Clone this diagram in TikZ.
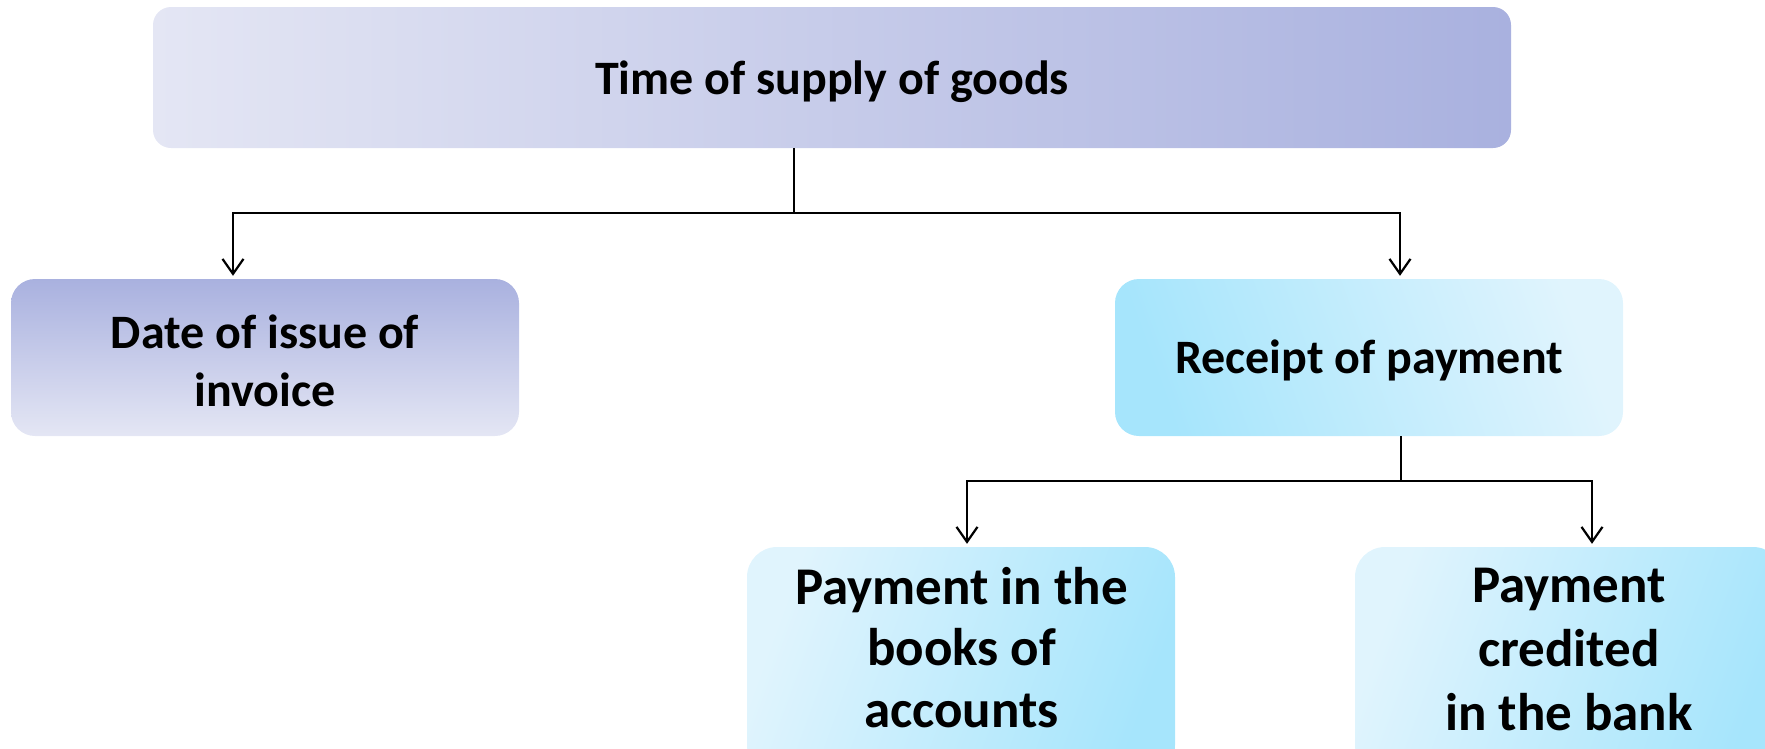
\documentclass[tikz,border=0pt]{standalone}
\usepackage{fontspec}
\setmainfont{Carlito}
\usetikzlibrary{arrows.meta}
\definecolor{lavLight}{HTML}{E4E6F4}
\definecolor{lavDark}{HTML}{A9B1DF}
\definecolor{skyLight}{HTML}{E0F4FD}
\definecolor{skyDark}{HTML}{A6E5FC}
\begin{document}
\begin{tikzpicture}[x=1pt,y=-1pt,
  box/.style={rectangle, rounded corners=#1, inner sep=0pt, draw=none},
  lbl/.style={font=\bfseries, align=center, inner sep=0pt, anchor=base},
  link/.style={line width=2pt, black},
  arr/.style={link, -{Straight Barb[length=15pt,width=21pt,line width=2.2pt]}, shorten >=3pt}]
\clip (0,0) rectangle (1765,748);

% boxes
\node[box=18pt, minimum width=1358pt, minimum height=141pt,
      left color=lavLight, right color=lavDark] (top) at (832,77.5) {};
\node[box=24pt, minimum width=508pt, minimum height=157pt,
      top color=lavDark, bottom color=lavLight] (date) at (265,357.5) {};
\node[box=24pt, minimum width=508pt, minimum height=157pt,
      top color=skyLight, bottom color=skyDark, shading angle=-70] (rec) at (1369,357.5) {};
\node[box=30pt, minimum width=428pt, minimum height=228pt,
      top color=skyLight, bottom color=skyDark, shading angle=70] (books) at (961,661) {};
\node[box=30pt, minimum width=428pt, minimum height=228pt,
      top color=skyLight, bottom color=skyDark, shading angle=70] (bank) at (1569,661) {};

% texts (anchored at the baseline of their last line)
\node[lbl, font=\bfseries\fontsize{48}{56}\selectfont] (ttop) at (832,94) {Time of supply of goods};
\node[lbl, font=\bfseries\fontsize{48}{58}\selectfont] (tdate) at (265,406) {Date of issue of\\invoice};
\node[lbl, font=\bfseries\fontsize{48}{56}\selectfont] (trec) at (1369,373) {Receipt of payment};
\node[lbl, font=\bfseries\fontsize{53}{61.5}\selectfont] (tbooks) at (961.5,727) {Payment in the\\books of\\accounts};
\node[lbl, font=\bfseries\fontsize{53}{64}\selectfont] (tbank) at (1569,730) {Payment\\credited\\in the bank};

% connectors
\coordinate (j1) at (794,213);
\coordinate (j2) at (1401,481);
\draw[link] (top.south -| j1) -- (j1);
\draw[arr] (j1) -| ([xshift=-32pt]date.north);
\draw[arr] (j1) -| ([xshift=31pt]rec.north);
\draw[link] (rec.south -| j2) -- (j2);
\draw[arr] (j2) -| ([xshift=6pt]books.north);
\draw[arr] (j2) -| ([xshift=23pt]bank.north);
\end{tikzpicture}
\end{document}
